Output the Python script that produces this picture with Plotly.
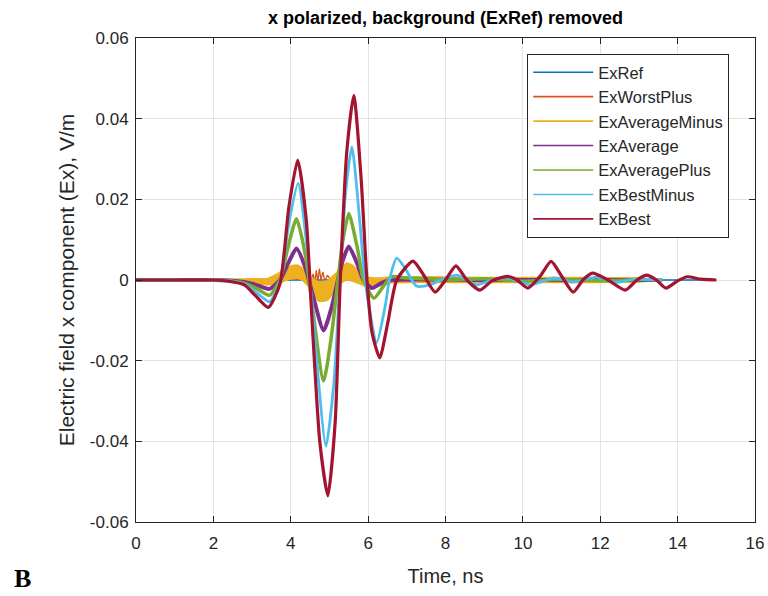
import plotly.graph_objects as go

# ---------------- data ----------------
series_names = ["ExRef", "ExWorstPlus", "ExAverageMinus", "ExAverage",
                "ExAveragePlus", "ExBestMinus", "ExBest"]

t_ref = [0.0, 15.0]
ex_ref = [0.0, 0.0]

t_worst = [0.0, 3.5, 4.3, 4.5, 4.58, 4.62, 4.66, 4.7, 4.74, 4.78, 4.83, 4.88, 4.95, 5.05, 5.2, 6.0, 9.0, 11.5, 12.0, 13.6]
ex_worst = [0.0, 0.0, 0.0003, -0.0006, 0.0015, -0.0008, 0.0024, -0.0004, 0.0028, 0.0, 0.002, -0.0003, 0.0012, -0.0003, 0.0004, 0.0, 0.0002, 0.0006, 0.0004, 0.0]

# ExAverageMinus is a noisy band: upper and lower edges
t_avgm = [0.0, 1.5, 2.5, 3.0, 3.4, 3.7, 3.9, 4.05, 4.2, 4.35, 4.5, 4.72, 4.95, 5.15, 5.3, 5.45, 5.6, 5.8, 6.0, 6.3, 6.6, 7.5, 9.0, 11.0, 13.0, 13.6]
ex_avgm_hi = [0.0, 0.0, 0.0002, 0.0003, 0.0004, 0.0018, 0.003, 0.0036, 0.0036, 0.0026, 0.0008, -0.0004, -0.0002, 0.0015, 0.003, 0.0042, 0.0036, 0.0018, 0.0007, 0.0005, 0.0008, 0.0008, 0.0006, 0.0006, 0.0005, 0.0]
ex_avgm_lo = [0.0, 0.0, -0.0002, -0.0008, -0.0012, -0.0008, 0.0, 0.0003, 0.0004, -0.0005, -0.0022, -0.0052, -0.005, -0.0025, -0.0008, 0.0, -0.0003, -0.001, -0.0018, -0.0015, -0.0007, -0.0006, -0.0006, -0.0006, -0.0005, 0.0]

t_avg = [0.0, 1.0, 2.0, 2.4, 2.8, 3.1, 3.45, 3.72, 3.95, 4.15, 4.38, 4.55, 4.85, 5.05, 5.22, 5.35, 5.5, 5.72, 5.88, 6.1, 6.35, 6.6, 9.0, 13.6]
ex_avg = [0.0, 0.0, 0.0, -0.0001, -0.0005, -0.0012, -0.0022, 0.0, 0.0045, 0.0078, 0.003, -0.003, -0.0125, -0.007, 0.0, 0.005, 0.0083, 0.004, 0.0, -0.002, -0.0007, 0.0, 0.0, 0.0]

t_avgp = [0.0, 1.0, 2.0, 2.4, 2.8, 3.1, 3.45, 3.72, 3.95, 4.15, 4.4, 4.55, 4.85, 5.05, 5.22, 5.35, 5.5, 5.72, 5.88, 6.15, 6.4, 6.6, 7.0, 7.5, 8.0, 9.0, 10.0, 11.0, 12.0, 13.0, 13.6]
ex_avgp = [0.0, 0.0, 0.0, -0.0002, -0.0008, -0.002, -0.0038, 0.0, 0.009, 0.0152, 0.005, -0.006, -0.025, -0.014, 0.0, 0.01, 0.0165, 0.008, 0.0, -0.0045, -0.0015, 0.0008, 0.0005, 0.0003, 0.0, 0.0003, -0.0003, 0.0002, -0.0002, 0.0001, 0.0]

t_bestm = [0.0, 1.0, 2.0, 2.4, 2.8, 3.1, 3.45, 3.72, 3.95, 4.19, 4.42, 4.6, 4.91, 5.12, 5.27, 5.42, 5.58, 5.78, 5.92, 6.22, 6.45, 6.55, 6.74, 6.95, 7.25, 7.6, 7.95, 8.3, 8.55, 8.8, 9.2, 9.6, 10.2, 10.8, 11.3, 11.9, 12.4, 12.9, 13.6]
ex_bestm = [0.0, 0.0, 0.0, -0.0002, -0.001, -0.003, -0.0054, -0.0005, 0.014, 0.024, 0.008, -0.012, -0.0412, -0.025, 0.0, 0.022, 0.033, 0.015, 0.0, -0.0155, -0.006, 0.0, 0.0054, 0.003, -0.0015, -0.0012, 0.0003, 0.0012, 0.0, -0.0012, 0.0, 0.0005, -0.0012, 0.0005, -0.0005, 0.0007, -0.0006, 0.0002, 0.0]

t_best = [0.0, 1.0, 2.0, 2.4, 2.8, 3.1, 3.42, 3.72, 3.95, 4.18, 4.4, 4.55, 4.75, 4.96, 5.15, 5.28, 5.45, 5.63, 5.82, 5.97, 6.1, 6.3, 6.5, 6.74, 7.16, 7.45, 7.73, 8.0, 8.27, 8.55, 8.89, 9.2, 9.6, 9.85, 10.13, 10.45, 10.73, 11.0, 11.3, 11.55, 11.8, 12.2, 12.65, 12.95, 13.2, 13.45, 13.7, 14.0, 14.25, 14.6, 15.0]
ex_best = [0.0, 0.0, 0.0, -0.0003, -0.0012, -0.004, -0.0068, -0.001, 0.018, 0.0297, 0.015, -0.01, -0.04, -0.0535, -0.035, 0.0, 0.032, 0.0458, 0.025, 0.0, -0.013, -0.0193, -0.011, 0.0, 0.0047, 0.001, -0.003, 0.0, 0.0035, 0.0, -0.0025, -0.0002, 0.0009, 0.0, -0.002, 0.001, 0.0046, 0.001, -0.003, 0.0, 0.0017, 0.0, -0.0025, 0.0, 0.0012, 0.0, -0.002, -0.0002, 0.0008, 0.0002, 0.0]

x_ticks = [0, 2, 4, 6, 8, 10, 12, 14, 16]
y_ticks = [-0.06, -0.04, -0.02, 0, 0.02, 0.04, 0.06]
y_tick_text = ["-0.06", "-0.04", "-0.02", "0", "0.02", "0.04", "0.06"]

# ---------------- styles ----------------
colors = ["#0072BD", "#D95319", "#EDB120", "#7E2F8E", "#77AC30", "#4DBEEE", "#A2142F"]
FONT = "Liberation Sans, Arial, Helvetica, sans-serif"
INK = "#262626"
SM = 0.6

fig = go.Figure()
# ExRef
fig.add_trace(go.Scatter(x=t_ref, y=ex_ref, mode="lines", name=series_names[0], showlegend=False,
                         line=dict(color=colors[0], width=1.5)))
# ExWorstPlus
fig.add_trace(go.Scatter(x=t_worst, y=ex_worst, mode="lines", name=series_names[1], showlegend=False,
                         line=dict(color=colors[1], width=1.3)))
# ExAverageMinus band
fig.add_trace(go.Scatter(x=t_avgm + t_avgm[::-1], y=ex_avgm_hi + ex_avgm_lo[::-1],
                         mode="lines", name=series_names[2], showlegend=False,
                         fill="toself", fillcolor=colors[2],
                         line=dict(color=colors[2], width=1.5, shape="spline", smoothing=SM)))
# ExAverage .. ExBest
for name, tx, vy, c, w in [(series_names[3], t_avg, ex_avg, colors[3], 4.0),
                           (series_names[4], t_avgp, ex_avgp, colors[4], 3.5),
                           (series_names[5], t_bestm, ex_bestm, colors[5], 2.8),
                           (series_names[6], t_best, ex_best, colors[6], 3.2)]:
    fig.add_trace(go.Scatter(x=tx, y=vy, mode="lines", name=name, showlegend=False,
                             line=dict(color=c, width=w, shape="spline", smoothing=SM)))

# legend entries with thin sample lines
for name, c in zip(series_names, colors):
    fig.add_trace(go.Scatter(x=[None], y=[None], mode="lines", name=name,
                             showlegend=True, line=dict(color=c, width=1.6)))

axis_common = dict(showgrid=True, gridcolor="#e3e3e3", gridwidth=1,
                   showline=True, linecolor=INK, linewidth=1, mirror="ticks",
                   ticks="inside", ticklen=6, tickcolor=INK, zeroline=False,
                   automargin=False,
                   tickfont=dict(family=FONT, size=17, color=INK))

fig.update_xaxes(range=[0, 16], tickvals=x_ticks, ticklabelstandoff=6,
                 title=dict(text="Time, ns", font=dict(family=FONT, size=20, color=INK), standoff=16),
                 **axis_common)
fig.update_yaxes(range=[-0.06, 0.06], tickvals=y_ticks, ticktext=y_tick_text, ticklabelstandoff=3,
                 title=dict(text="Electric field x component (Ex), V/m",
                            font=dict(family=FONT, size=21, color=INK), standoff=9),
                 **axis_common)

fig.update_layout(
    width=768, height=596,
    margin=dict(l=136, r=13, t=38, b=74),
    paper_bgcolor="white", plot_bgcolor="white",
    title=dict(text="<b>x polarized, background (ExRef) removed</b>",
               font=dict(family=FONT, size=18, color="#000000"),
               x=0.5, xref="paper", xanchor="center",
               y=1 - 18 / 596, yref="container", yanchor="middle"),
    legend=dict(x=0.632, y=0.967, xanchor="left", yanchor="top",
                bgcolor="white", bordercolor=INK, borderwidth=1,
                font=dict(family=FONT, size=16.5, color=INK),
                itemwidth=60, tracegroupgap=0),
    showlegend=True,
    annotations=[dict(text="<b>B</b>", x=-0.184, y=-0.116, xref="paper", yref="paper",
                      xanchor="center", yanchor="middle", showarrow=False,
                      font=dict(family="Liberation Serif, Times New Roman, serif", size=26, color="#000000"))],
)

fig.write_html("out.html")
